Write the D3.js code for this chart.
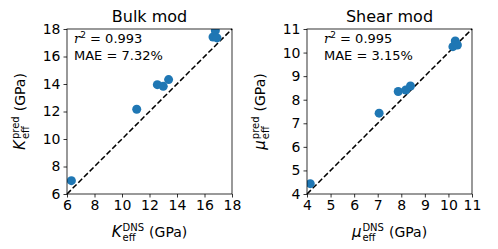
<!DOCTYPE html>
<html>
<head>
<meta charset="utf-8">
<script src="https://cdn.jsdelivr.net/npm/d3@7"></script>
<style>
  body { margin: 0; background: #fff; }
  svg text { font-family: "DejaVu Sans", sans-serif; fill: #000; }
</style>
</head>
<body>
<svg id="chart" width="498" height="249"></svg>
<script>
// Bulk modulus: DNS vs predicted (GPa)
const bulkDNS  = [6.32, 11.07, 12.57, 13.0, 13.39, 16.62, 16.79, 16.91];
const bulkPred = [6.97, 12.16, 13.95, 13.83, 14.32, 17.42, 17.88, 17.35];
const bulkTicks = [6, 8, 10, 12, 14, 16, 18];

// Shear modulus: DNS vs predicted (GPa)
const shearDNS  = [4.14, 7.06, 7.87, 8.19, 8.39, 10.19, 10.29, 10.38];
const shearPred = [4.44, 7.43, 8.35, 8.41, 8.58, 10.25, 10.49, 10.32];
const shearTicks = [4, 5, 6, 7, 8, 9, 10, 11];

const panels = [
  { title: "Bulk mod", sym: "K", xs: bulkDNS, ys: bulkPred, ticks: bulkTicks,
    domain: [6, 18], left: 67, r2: "0.993", mae: "7.32%", textX: 7 },
  { title: "Shear mod", sym: "\u03bc", xs: shearDNS, ys: shearPred, ticks: shearTicks,
    domain: [4, 11], left: 307, r2: "0.995", mae: "3.15%", textX: 17 }
];

const svg = d3.select("#chart");
const plotTop = 29, size = 165;

// symbol with stacked super/subscript, then "(GPa)", centred on 0
function modLabel(g, sym, sup) {
  const s = g.append("text").attr("font-size", 15).attr("font-style", "italic")
      .attr("font-family", "DejaVu Serif, serif").text(sym);
  const w0 = s.node().getComputedTextLength() + 1;
  const up = g.append("text").attr("font-size", 10).attr("x", w0).attr("y", -6).text(sup);
  const dn = g.append("text").attr("font-size", 10).attr("x", w0).attr("y", 4).text("eff");
  const w1 = w0 + Math.max(up.node().getComputedTextLength(), dn.node().getComputedTextLength()) + 5;
  const u = g.append("text").attr("font-size", 14).attr("x", w1).text("(GPa)");
  const total = w1 + u.node().getComputedTextLength();
  g.selectAll("text").attr("dx", -total / 2);
}

panels.forEach((p, i) => {
  const x = d3.scaleLinear().domain(p.domain).range([p.left, p.left + size]);
  const y = d3.scaleLinear().domain(p.domain).range([plotTop + size, plotTop]);

  svg.append("defs").append("clipPath")
      .attr("id", "clip" + i)
    .append("rect")
      .attr("x", p.left).attr("y", plotTop)
      .attr("width", size).attr("height", size);

  // parity line
  svg.append("line")
      .attr("x1", x(p.domain[0])).attr("y1", y(p.domain[0]))
      .attr("x2", x(p.domain[1])).attr("y2", y(p.domain[1]))
      .attr("stroke", "#000")
      .attr("stroke-width", 1.5)
      .attr("stroke-dasharray", "5.5,2.5");

  svg.append("g")
      .attr("clip-path", "url(#clip" + i + ")")
    .selectAll("circle")
    .data(p.xs)
    .enter().append("circle")
      .attr("cx", d => x(d))
      .attr("cy", (d, j) => y(p.ys[j]))
      .attr("r", 4.5)
      .attr("fill", "#1f77b4");

  const xAxis = svg.append("g")
      .attr("transform", `translate(0,${plotTop + size})`)
      .call(d3.axisBottom(x).tickValues(p.ticks).tickSize(3.5).tickPadding(3).tickFormat(d3.format("d")));
  const yAxis = svg.append("g")
      .attr("transform", `translate(${p.left},0)`)
      .call(d3.axisLeft(y).tickValues(p.ticks).tickSize(3.5).tickPadding(3).tickFormat(d3.format("d")));
  [xAxis, yAxis].forEach(a => {
    a.select(".domain").remove();
    a.selectAll("text").attr("font-size", 14).attr("font-family", "DejaVu Sans, sans-serif");
    a.selectAll("line").attr("stroke", "#000").attr("stroke-width", 0.8);
  });

  // frame
  svg.append("rect")
      .attr("x", p.left).attr("y", plotTop)
      .attr("width", size).attr("height", size)
      .attr("fill", "none")
      .attr("stroke", "#000")
      .attr("stroke-width", 0.8);

  // title
  svg.append("text")
      .attr("x", p.left + size / 2).attr("y", 22)
      .attr("text-anchor", "middle")
      .attr("font-size", 16)
      .text(p.title);

  // stats
  const r2 = svg.append("text")
      .attr("x", p.left + p.textX).attr("y", 43)
      .attr("font-size", 13);
  r2.append("tspan").attr("font-style", "italic").attr("font-family", "DejaVu Serif, serif").text("r");
  r2.append("tspan").attr("dy", -5).attr("font-size", 9).text("2");
  r2.append("tspan").attr("dy", 5).text(" = " + p.r2);
  svg.append("text")
      .attr("x", p.left + p.textX).attr("y", 60)
      .attr("font-size", 13)
      .text("MAE = " + p.mae);

  // axis labels
  modLabel(svg.append("g").attr("transform", `translate(${p.left + size / 2},237)`), p.sym, "DNS");
  modLabel(svg.append("g").attr("transform", `translate(${p.left - 42},${plotTop + size / 2}) rotate(-90)`), p.sym, "pred");
});
</script>
</body>
</html>
